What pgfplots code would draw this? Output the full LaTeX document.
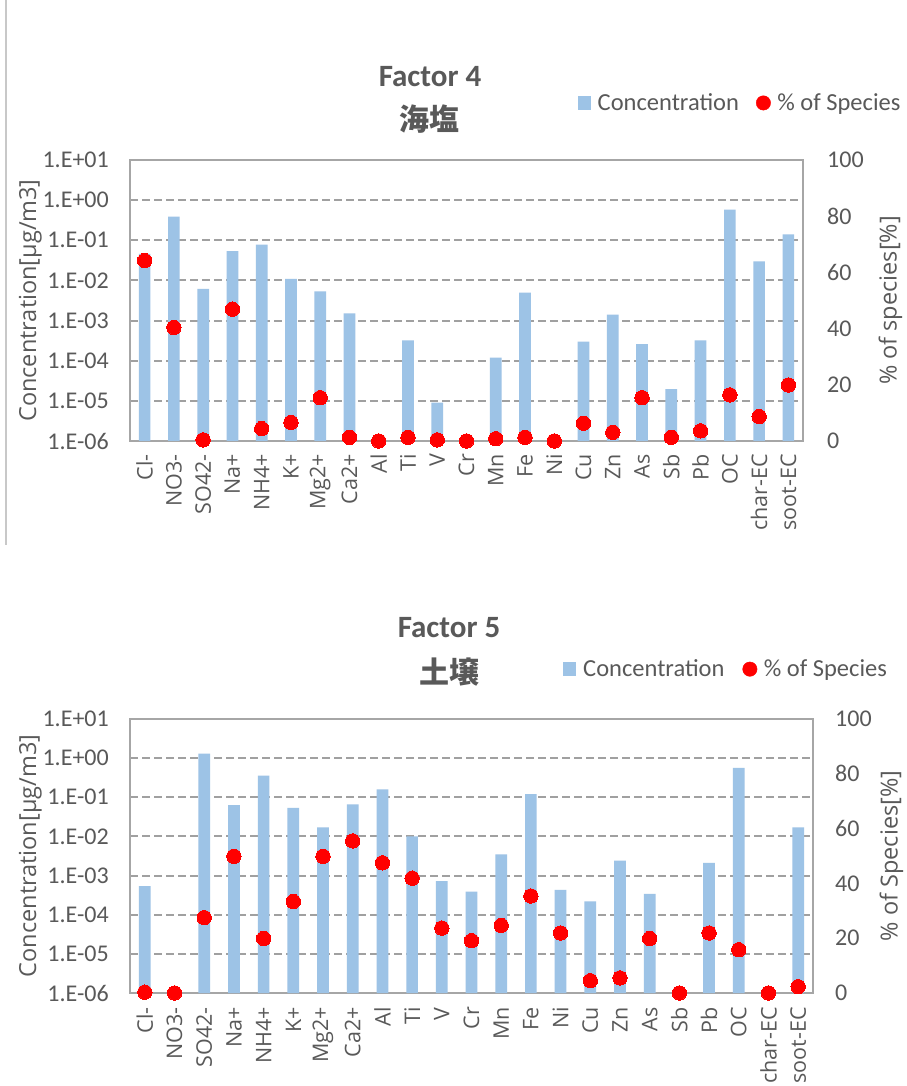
\documentclass[border=0pt]{standalone}
\usepackage{pgfplots}
\usepackage{pgfplotstable}
\pgfplotsset{compat=1.18}
\usepackage{fontspec}
\setmainfont{Carlito}
\newfontfamily\opensans{Open Sans}
\newfontfamily\cjk{Noto Sans CJK JP}

\definecolor{barblue}{HTML}{9DC3E6}
\definecolor{textgray}{HTML}{595959}
\definecolor{axisgray}{HTML}{A6A6A6}
\definecolor{gridgray}{HTML}{A0A0A0}
\definecolor{framegray}{HTML}{C8C8C8}

% Factor 4 (sea salt): concentration [ug/m3] and % of species
\pgfplotstableread{
x conc pct
0  0.046   64.2
1  0.39    40.4
2  0.0062  0.4
3  0.054   46.9
4  0.078   4.4
5  0.011   6.6
6  0.0053  15.4
7  0.0015  1.3
8  nan     0
9  3.2e-4  1.3
10 9e-6    0.4
11 nan     0
12 1.2e-4  0.8
13 5e-3    1.3
14 nan     0
15 3.0e-4  6.3
16 1.4e-3  3.1
17 2.6e-4  15.4
18 1.95e-5 1.3
19 3.2e-4  3.6
20 0.58    16.4
21 0.030   8.7
22 0.14    19.9
}\factorfour

% Factor 5 (soil)
\pgfplotstableread{
x conc pct
0  5.4e-4  0.3
1  nan     0
2  1.3     27.5
3  0.063   49.9
4  0.36    19.9
5  0.054   33.4
6  0.017   49.9
7  0.066   55.5
8  0.16    47.5
9  0.010   41.9
10 7.2e-4  23.7
11 3.9e-4  19.1
12 3.5e-3  24.7
13 0.12    35.4
14 4.3e-4  21.9
15 2.2e-4  4.5
16 2.4e-3  5.5
17 3.4e-4  19.9
18 nan     0
19 2.1e-3  21.9
20 0.56    15.8
21 nan     0
22 0.017   2.3
}\factorfive

\newcommand{\ticksize}{\fontsize{24}{28}\selectfont}
\newcommand{\catfont}{\opensans\fontsize{21.5}{25}\selectfont}
\newcommand{\labfont}{\opensans\fontsize{23.5}{27}\selectfont}
\newcommand{\legfont}{\fontsize{24.5}{28}\selectfont}
\newcommand{\titlefont}{\bfseries\fontsize{31}{35}\selectfont}
\newcommand{\subtitlefont}{\cjk\bfseries\fontsize{30}{34}\selectfont}

% legend swatches: a filled square for the bars, a dot for the percentages
\pgfplotsset{
  squareswatch/.style={legend image code/.code={%
    \fill[barblue] (0pt,-7pt) rectangle (13pt,7pt);
    \path[draw=none, fill=none] (0pt,0pt) -- (18pt,0pt);}},
  dotswatch/.style={legend image code/.code={%
    \fill[red] (7pt,0pt) circle[radius=7.2pt];
    \path[draw=none, fill=none] (0pt,0pt) -- (19pt,0pt);}},
}

\begin{document}
\begin{tikzpicture}
\useasboundingbox (0pt,0pt) rectangle (906pt,1086pt);
\clip (0pt,0pt) rectangle (906pt,1086pt);
\fill[white] (0pt,0pt) rectangle (906pt,1086pt);
\draw[framegray, line width=1.5pt] (6pt,1086pt) -- (6pt,541pt);

% ---------- Factor 4 ----------
\node[font=\titlefont, text=textgray] at (430pt,1009pt) {Factor 4};
\node[font=\subtitlefont, text=textgray] at (429pt,967pt) {海塩};

\begin{axis}[at={(130pt,645pt)}, anchor=south west, scale only axis, width=673pt, height=281pt,
  xmin=-0.5, xmax=22.5, ymode=log, ymin=1e-6, ymax=10, log origin y=infty,
  xtick={0,...,22},
  xticklabels={Cl-,NO3-,SO42-,Na+,NH4+,K+,Mg2+,Ca2+,Al,Ti,V,Cr,Mn,Fe,Ni,Cu,Zn,As,Sb,Pb,OC,char-EC,soot-EC},
  ytick={1e-6,1e-5,1e-4,1e-3,1e-2,1e-1,1,10},
  yticklabels={1.E-06,1.E-05,1.E-04,1.E-03,1.E-02,1.E-01,1.E+00,1.E+01},
  major tick length=0pt, minor tick length=0pt,
  ymajorgrids,
  major grid style={draw=gridgray, line width=2pt, dash pattern=on 8pt off 4pt},
  axis line style={draw=axisgray, line width=2pt},
  yticklabel style={font=\ticksize, text=textgray, anchor=east, inner sep=0pt, xshift=-21pt},
  xticklabel style={font=\catfont, text=textgray, inner sep=0pt, yshift=-13pt, rotate=90, anchor=east},
  ylabel={Concentration[μg/m3]},
  ylabel style={at={(axis description cs:-0.148,0.5)}, rotate=0, anchor=center, font=\labfont, text=textgray},
  legend columns=2, legend cell align=left,
  legend style={draw=none, fill=none, inner sep=0pt, anchor=west, at={(axis description cs:0.665,1.203)},
    font=\legfont, text=textgray, /tikz/every even column/.append style={column sep=15pt}}]
\addplot[ybar, bar width=11.7pt, bar shift=0pt, draw=none, fill=barblue, squareswatch] table[x=x, y=conc] {\factorfour};
\addlegendentry{Concentration}
\addlegendimage{dotswatch}
\addlegendentry{\% of Species}
\end{axis}

\begin{axis}[at={(130pt,645pt)}, anchor=south west, scale only axis, width=673pt, height=281pt,
  xmin=-0.5, xmax=22.5, ymin=0, ymax=100,
  axis x line=none, axis y line*=right,
  ytick={0,20,40,60,80,100}, yticklabels={0,20,40,60,80,100},
  major tick length=0pt,
  axis line style={draw=axisgray, line width=2pt},
  yticklabel style={font=\ticksize, text=textgray, anchor=west, inner sep=0pt, xshift=24pt},
  ylabel={\% of species[\%]},
  ylabel style={at={(axis description cs:1.13,0.5)}, rotate=0, anchor=center, font=\labfont, text=textgray},
  clip=false]
\addplot[red, only marks, mark=*, mark size=7.2pt, mark options={fill=red, draw=red, line width=0pt}] table[x=x, y=pct] {\factorfour};
\end{axis}

% ---------- Factor 5 ----------
\node[font=\titlefont, text=textgray] at (449pt,458pt) {Factor 5};
\node[font=\subtitlefont, text=textgray] at (449pt,414pt) {土壌};

\begin{axis}[at={(130pt,93pt)}, anchor=south west, scale only axis, width=683pt, height=274pt,
  xmin=-0.5, xmax=22.5, ymode=log, ymin=1e-6, ymax=10, log origin y=infty,
  xtick={0,...,22},
  xticklabels={Cl-,NO3-,SO42-,Na+,NH4+,K+,Mg2+,Ca2+,Al,Ti,V,Cr,Mn,Fe,Ni,Cu,Zn,As,Sb,Pb,OC,char-EC,soot-EC},
  ytick={1e-6,1e-5,1e-4,1e-3,1e-2,1e-1,1,10},
  yticklabels={1.E-06,1.E-05,1.E-04,1.E-03,1.E-02,1.E-01,1.E+00,1.E+01},
  major tick length=0pt, minor tick length=0pt,
  ymajorgrids,
  major grid style={draw=gridgray, line width=2pt, dash pattern=on 8pt off 4pt},
  axis line style={draw=axisgray, line width=2pt},
  yticklabel style={font=\ticksize, text=textgray, anchor=east, inner sep=0pt, xshift=-21pt},
  xticklabel style={font=\catfont, text=textgray, inner sep=0pt, yshift=-14pt, rotate=90, anchor=east},
  ylabel={Concentration[μg/m3]},
  ylabel style={at={(axis description cs:-0.146,0.5)}, rotate=0, anchor=center, font=\labfont, text=textgray},
  legend columns=2, legend cell align=left,
  legend style={draw=none, fill=none, inner sep=0pt, anchor=west, at={(axis description cs:0.634,1.182)},
    font=\legfont, text=textgray, /tikz/every even column/.append style={column sep=16pt}}]
\addplot[ybar, bar width=11.7pt, bar shift=0pt, draw=none, fill=barblue, squareswatch] table[x=x, y=conc] {\factorfive};
\addlegendentry{Concentration}
\addlegendimage{dotswatch}
\addlegendentry{\% of Species}
\end{axis}

\begin{axis}[at={(130pt,93pt)}, anchor=south west, scale only axis, width=683pt, height=274pt,
  xmin=-0.5, xmax=22.5, ymin=0, ymax=100,
  axis x line=none, axis y line*=right,
  ytick={0,20,40,60,80,100}, yticklabels={0,20,40,60,80,100},
  major tick length=0pt,
  axis line style={draw=axisgray, line width=2pt},
  yticklabel style={font=\ticksize, text=textgray, anchor=west, inner sep=0pt, xshift=22pt},
  ylabel={\% of Species[\%]},
  ylabel style={at={(axis description cs:1.115,0.5)}, rotate=0, anchor=center, font=\labfont, text=textgray},
  clip=false]
\addplot[red, only marks, mark=*, mark size=7.2pt, mark options={fill=red, draw=red, line width=0pt}] table[x=x, y=pct] {\factorfive};
\end{axis}
\end{tikzpicture}
\end{document}
